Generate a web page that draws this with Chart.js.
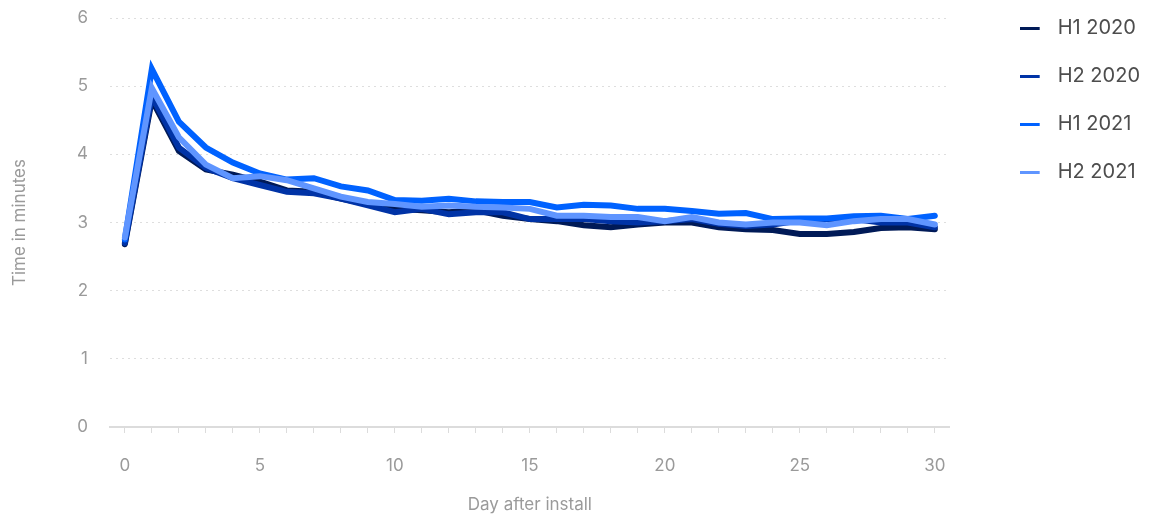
<!DOCTYPE html>
<html>
<head>
<meta charset="utf-8">
<script src="https://cdn.jsdelivr.net/npm/chart.js@4.4.0/dist/chart.umd.min.js"></script>
<style>
  html, body { margin: 0; padding: 0; background: #fff; }
  #wrap { width: 1151px; height: 517px; }
</style>
</head>
<body>
<div id="wrap"><canvas id="retentionChart"></canvas></div>
<script>
const days = Array.from({ length: 31 }, (_, i) => i);
const seriesLabels = ["H1 2020", "H2 2020", "H1 2021", "H2 2021"];
const seriesColors = ["#001a57", "#0033a6", "#0062ff", "#5f95ff"];

const h1_2020 = [2.68, 4.8, 4.05, 3.78, 3.7, 3.6, 3.47, 3.45, 3.35, 3.27, 3.2, 3.18, 3.15, 3.18, 3.1, 3.05,
  3.02, 2.96, 2.93, 2.97, 3.0, 3.0, 2.93, 2.9, 2.89, 2.83, 2.83, 2.86, 2.92, 2.93, 2.9];
const h2_2020 = [2.7, 4.85, 4.1, 3.8, 3.65, 3.55, 3.45, 3.43, 3.35, 3.25, 3.15, 3.2, 3.12, 3.15, 3.15, 3.05,
  3.05, 3.05, 3.02, 3.0, 3.02, 3.05, 2.98, 2.95, 2.97, 3.03, 3.05, 3.05, 3.0, 3.0, 2.93];
const h1_2021 = [2.75, 5.25, 4.48, 4.1, 3.88, 3.72, 3.63, 3.65, 3.53, 3.47, 3.33, 3.32, 3.35, 3.31, 3.3, 3.3,
  3.22, 3.26, 3.25, 3.2, 3.2, 3.17, 3.13, 3.14, 3.05, 3.06, 3.06, 3.09, 3.1, 3.05, 3.1];
const h2_2021 = [2.78, 4.97, 4.25, 3.85, 3.65, 3.68, 3.62, 3.5, 3.38, 3.3, 3.27, 3.23, 3.25, 3.23, 3.22, 3.2,
  3.1, 3.1, 3.08, 3.08, 3.02, 3.08, 3.0, 2.97, 3.0, 3.0, 2.96, 3.02, 3.05, 3.05, 2.97];
const seriesValues = [h1_2020, h2_2020, h1_2021, h2_2021];
const drawOrder = [3, 2, 1, 0];

const yTicks = [0, 1, 2, 3, 4, 5, 6];

const FONT = "Inter, 'Open Sans', sans-serif";
const AXIS_GREY = "#9a9a9a";

// short line swatch followed by empty space, used as legend marker
function swatch(color) {
  const c = document.createElement("canvas");
  c.width = 28;
  c.height = 3;
  const g = c.getContext("2d");
  g.fillStyle = color;
  g.fillRect(0, 0, 20, 3);
  return c;
}

// nudge the legend up a little, the built-in one starts too low
const legendNudge = {
  id: "legendNudge",
  afterLayout(chart) {
    if (chart.legend) {
      chart.legend.top -= 10;
      chart.legend.bottom -= 10;
    }
  },
};

const ctx = document.getElementById("retentionChart").getContext("2d");
const chart = new Chart(ctx, {
  type: "line",
  data: {
    datasets: seriesLabels.map((label, i) => ({
      label: label,
      data: days.map((d, j) => ({ x: d, y: seriesValues[i][j] })),
      borderColor: seriesColors[i],
      backgroundColor: seriesColors[i],
      borderWidth: 6,
      borderCapStyle: "round",
      borderJoinStyle: "miter",
      pointRadius: 0,
      tension: 0,
      fill: false,
      order: drawOrder[i],
    })),
  },
  plugins: [legendNudge],
  options: {
    responsive: true,
    maintainAspectRatio: false,
    animation: false,
    layout: { padding: { top: 0, right: 1, bottom: 0, left: 0 } },
    plugins: {
      tooltip: { enabled: false },
      legend: {
        position: "right",
        align: "start",
        labels: {
          usePointStyle: true,
          pointStyleWidth: 28,
          padding: 28,
          color: "#4d4d4d",
          font: { family: FONT, size: 20 },
          generateLabels(chart) {
            const items = Chart.defaults.plugins.legend.labels.generateLabels(chart);
            items.sort((a, b) => a.datasetIndex - b.datasetIndex);
            items.forEach((it) => {
              it.pointStyle = swatch(seriesColors[it.datasetIndex]);
            });
            return items;
          },
        },
      },
    },
    scales: {
      x: {
        type: "linear",
        min: -0.55,
        max: 30.55,
        afterBuildTicks(scale) {
          scale.ticks = days.map((d) => ({ value: d }));
        },
        afterFit(scale) {
          scale.height = 90;
        },
        ticks: {
          autoSkip: false,
          maxRotation: 0,
          padding: 23,
          color: AXIS_GREY,
          font: { family: FONT, size: 17 },
          callback: (v) => (v % 5 === 0 ? String(v) : ""),
        },
        grid: {
          drawOnChartArea: false,
          drawTicks: true,
          tickLength: 6,
          color: "#dcdcdc",
        },
        border: { display: true, color: "#dcdcdc", width: 2 },
        title: {
          display: true,
          text: "Day after install",
          color: AXIS_GREY,
          font: { family: FONT, size: 17 },
          padding: { top: 0, bottom: 2 },
        },
      },
      y: {
        min: 0,
        max: 6,
        afterBuildTicks(scale) {
          scale.ticks = yTicks.map((v) => ({ value: v }));
        },
        afterFit(scale) {
          scale.width = 110;
          scale.paddingTop = 18;
          scale.paddingBottom = 0;
        },
        ticks: {
          padding: 22,
          color: AXIS_GREY,
          font: { family: FONT, size: 17 },
        },
        grid: {
          drawTicks: false,
          color: "#dedede",
          lineWidth: 1,
        },
        border: { display: false, dash: [2, 4] },
        title: {
          display: true,
          text: "Time in minutes",
          color: AXIS_GREY,
          font: { family: FONT, size: 17 },
          padding: { top: 10, bottom: 0 },
        },
      },
      // empty spacer between the plot and the legend
      gap: {
        position: "right",
        ticks: { display: false },
        grid: { display: false },
        border: { display: false },
        afterFit(scale) {
          scale.width = 42;
        },
      },
    },
  },
});
</script>
</body>
</html>
